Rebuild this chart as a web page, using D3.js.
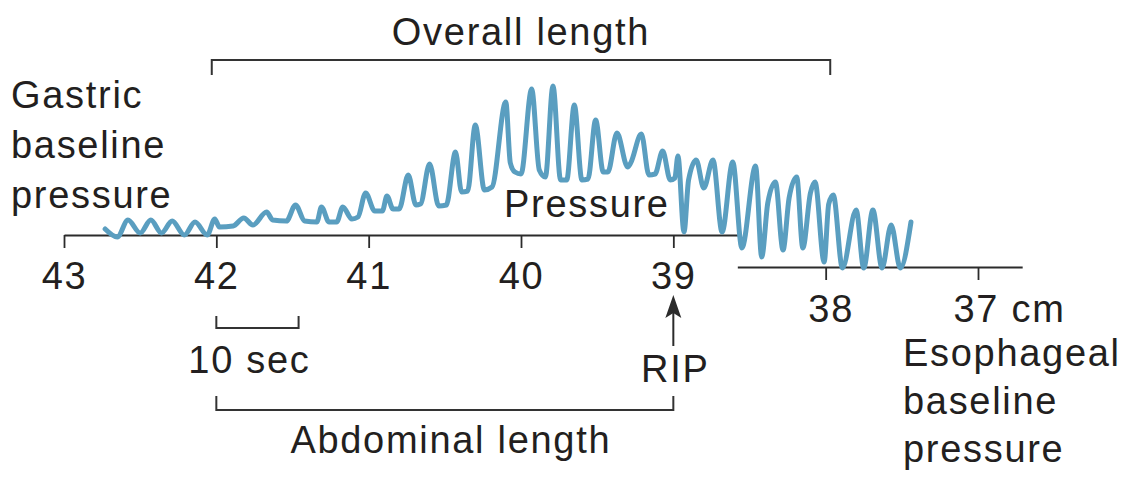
<!DOCTYPE html>
<html>
<head>
<meta charset="utf-8">
<script src="https://cdn.jsdelivr.net/npm/d3@7"></script>
<style>
  body { margin: 0; background: #fff; }
  svg { display: block; }
  text { font-family: "Liberation Sans", Arial, Helvetica, sans-serif; fill: #231f20; letter-spacing: 1.7px; }
  .axis .domain, .axis line { stroke: #2b2b2b; stroke-width: 1.8; }
  .axis text { font-size: 38px; }
  .bracket { fill: none; stroke: #333; stroke-width: 2; }
</style>
</head>
<body>
<svg class="chart"></svg>
<script>
// pull-through position along the catheter (cm) and pressure (mmHg, relative to gastric baseline)
const tracePosition = [
  42.73, 42.65, 42.58, 42.50, 42.43, 42.36, 42.29, 42.21, 42.14, 42.06,
  42.01, 41.98, 41.89, 41.82, 41.76, 41.67, 41.63, 41.54, 41.48, 41.42,
  41.34, 41.31, 41.26, 41.21, 41.17, 41.11, 41.07, 41.02, 40.96, 40.91,
  40.88, 40.84, 40.80, 40.74, 40.69, 40.66, 40.60, 40.54, 40.49, 40.43,
  40.39, 40.35, 40.30, 40.24, 40.19, 40.10, 40.07, 40.04, 40.00, 39.93,
  39.88, 39.84, 39.79, 39.74, 39.70, 39.65, 39.60, 39.56, 39.51, 39.46,
  39.43, 39.37, 39.30, 39.28, 39.21, 39.16, 39.12, 39.07, 39.02, 38.99,
  38.97, 38.93, 38.90, 38.85, 38.80, 38.74, 38.68, 38.61, 38.55, 38.46,
  38.42, 38.38, 38.33, 38.28, 38.24, 38.19, 38.15, 38.10, 38.07, 38.01,
  37.98, 37.95, 37.89, 37.80, 37.75, 37.69, 37.63, 37.57, 37.51, 37.44
];
const tracePressure = [
  1.5, -0.5, 3.75, 0.5, 3.75, 0.5, 3.5, 0, 3.25, 0,
  4, 2, 2.25, 4.25, 2.5, 5.75, 3.75, 3.5, 7.5, 3.5,
  3.25, 7, 3.25, 3.25, 7, 4, 4.5, 10.5, 6, 6,
  9.75, 6.5, 6.5, 15, 7.5, 7.75, 17.75, 7.25, 7.5, 20.75,
  10.75, 11, 27.5, 11.25, 12, 33.25, 18, 15.75, 15.25, 36.5,
  16.25, 14.5, 37.25, 13.75, 13.75, 32.5, 13.75, 14, 28.75, 15.75,
  15.75, 25.5, 17, 18, 25.25, 15, 15.25, 21, 13.75, 14.25,
  19.75, 0.75, 13.75, 18.75, 11.75, 18.75, 0.75, 18.25, -3.25, 17.25,
  -5.5, 8, 13.25, -3.75, 9.25, 14.5, -3.25, 10.5, 13.25, -6.75,
  7.75, 10, -8.25, 6.25, -8.25, 6.25, -8.25, 2.5, -8.25, 3.25
];

const gastricTicks = [43, 42, 41, 40, 39];
const esophagealTicks = [38, 37];
const gastricBaseline = 0;
const esophagealBaseline = -8;
const gastricExtent = [43, 38.56];
const esophagealExtent = [38.58, 36.71];

const overallLength = [42.03, 37.97];
const abdominalLength = [42, 39];
const scaleBar10s = [42, 41.46];
const ripPosition = 39;

const width = 1140, height = 477;
const svg = d3.select('.chart')
  .attr('width', width)
  .attr('height', height);

//scales
const x = d3.scaleLinear().domain([43, 37]).range([64, 978]);
const y = d3.scaleLinear().domain([-10, 40]).range([275, 75]);

//axes (two baselines, each only as long as its segment)
const xGastric = x.copy().domain(gastricExtent).range(gastricExtent.map(x));
const xEso = x.copy().domain(esophagealExtent).range(esophagealExtent.map(x));

svg.append('g')
  .attr('class', 'axis')
  .attr('transform', `translate(0,${y(gastricBaseline)})`)
  .call(d3.axisBottom(xGastric).tickValues(gastricTicks).tickSize(13).tickSizeOuter(0).tickPadding(14)
    .tickFormat(d3.format('d')))
  .call(g => g.selectAll('text').attr('fill', null));

const esoAxis = svg.append('g')
  .attr('class', 'axis')
  .attr('transform', `translate(0,${y(esophagealBaseline)})`)
  .call(d3.axisBottom(xEso).tickValues(esophagealTicks).tickSize(13).tickSizeOuter(0).tickPadding(15)
    .tickFormat(d => d === 37 ? '37 cm' : d3.format('d')(d)));
esoAxis.selectAll('text').attr('fill', null);
esoAxis.selectAll('.tick').filter(d => d === 38).select('text').attr('x', 5);
esoAxis.selectAll('.tick').filter(d => d === 37).select('text')
  .attr('text-anchor', 'start')
  .attr('x', -25);

//pressure trace
const line = d3.line()
  .x(d => x(d[0]))
  .y(d => y(d[1]))
  .curve(d3.curveMonotoneX);

svg.append('path')
  .datum(d3.zip(tracePosition, tracePressure))
  .attr('d', line)
  .attr('fill', 'none')
  .attr('stroke', '#5a9ec0')
  .attr('stroke-width', 5)
  .attr('stroke-linejoin', 'round')
  .attr('stroke-linecap', 'round');

//brackets
svg.append('path').attr('class', 'bracket')
  .attr('d', `M${x(overallLength[0])},75V60H${x(overallLength[1])}V75`);
svg.append('path').attr('class', 'bracket')
  .attr('d', `M${x(abdominalLength[0])},396V410H${x(abdominalLength[1])}V396`);
svg.append('path').attr('class', 'bracket')
  .attr('d', `M${x(scaleBar10s[0])},316V328H${x(scaleBar10s[1])}V316`);

//RIP arrow
const ax = x(ripPosition);
svg.append('line')
  .attr('x1', ax).attr('x2', ax)
  .attr('y1', 346).attr('y2', 310)
  .attr('stroke', '#2b2b2b').attr('stroke-width', 2);
svg.append('path')
  .attr('d', `M${ax},295L${ax + 8},318L${ax},313L${ax - 8},318Z`)
  .attr('fill', '#2b2b2b');

//labels
const label = (txt, px, py, anchor) => svg.append('text')
  .attr('x', px).attr('y', py)
  .attr('text-anchor', anchor || 'start')
  .attr('font-size', 38)
  .text(txt);

label('Overall length', (x(overallLength[0]) + x(overallLength[1])) / 2, 45, 'middle');
label('Gastric', 11, 108);
label('baseline', 11, 158);
label('pressure', 11, 208);
label('Pressure', 504, 217);
label('10 sec', x(scaleBar10s[0]) - 28, 373);
label('RIP', ax + 2, 382, 'middle');
label('Abdominal length', (x(abdominalLength[0]) + x(abdominalLength[1])) / 2 + 6, 453, 'middle');
label('Esophageal', 903, 366);
label('baseline', 903, 414);
label('pressure', 903, 462);
</script>
</body>
</html>
